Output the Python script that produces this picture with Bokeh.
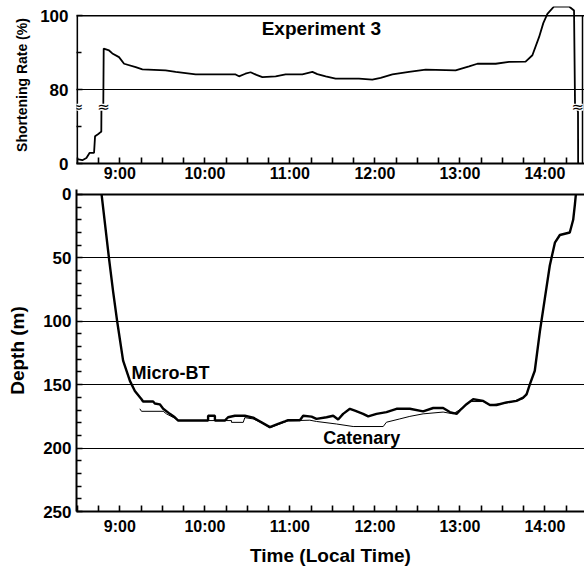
import numpy as np
from bokeh.plotting import figure
from bokeh.layouts import column
from bokeh.models import Range1d, FixedTicker, PrintfTickFormatter, Span
from bokeh.core.properties import value
from bokeh.embed import file_html
from bokeh.resources import INLINE

FONT = "Liberation Sans"

# ---------------- data (times in minutes after 08:00) ----------------
sr_minutes = [30, 33.5, 36.4, 38.7, 41.8, 42.5, 44.8, 46.4, 46.9, 47.0, 48.3, 48.6,
              52.4, 54.7, 59.4, 63.0, 71.2, 75.9, 92.3, 99.4, 113.5, 141.7, 144.1,
              148.6, 152.3, 156.4, 160.6, 170, 177, 188.8, 195.9, 199.4, 205.3, 212.3,
              228.8, 238.2, 244.1, 252.4, 264.1, 275.9, 297, 306.5, 312.4, 325.3,
              334.7, 346.4, 351.2, 355.9, 358.9, 361.8, 366.5, 377.1, 380.6, 381.3,
              383.4, 383.5]
sr_percent = [1.2, 0.9, 1.5, 2.9, 2.9, 7.4, 8.0, 8.5, 8.6, 14.5, 75, 91.1,
              90.6, 89.8, 88.8, 87.0, 86.1, 85.5, 85.2, 84.8, 84.1, 84.1, 83.6,
              84.3, 84.7, 84.0, 83.4, 83.6, 84.1, 84.1, 84.8, 84.2, 83.6, 83.0,
              83.0, 82.7, 83.2, 84.1, 84.8, 85.4, 85.2, 86.3, 87.0, 87.0,
              87.5, 87.6, 89.3, 94.2, 98.0, 100.5, 102.5, 102.5, 101.4, 76,
              14, 0]

bt_minutes = [47.1, 52.4, 55.3, 58.1, 62.3, 67.1, 70.6, 75.3, 76.4, 83.5, 84.7, 88.2,
              90.6, 95.3, 98.8, 101.2, 122.3, 122.3, 127.1, 127.1, 134.1, 136.4, 141.2,
              148.2, 154.1, 160, 165.9, 171.7, 176.5, 178.8, 187.1, 189.4, 195.3, 198.8,
              205.9, 210.6, 214.1, 217.6, 222.4, 225.9, 231.7, 235.3, 241.2, 248.2,
              255.3, 264.7, 274.1, 281.2, 288.2, 292.9, 297.7, 301.2, 304.7, 309.4,
              316.5, 321.2, 325.9, 332.9, 340, 344.7, 347.1, 349.4, 352.9, 356.5, 360,
              363.5, 367.1, 370.6, 377.6, 380, 381.2, 381.9]
bt_depth = [0, 51, 77, 100, 131, 147, 155, 161.5, 163.3, 163.3, 164.8, 165.5,
            169, 173, 175.7, 178.3, 178.3, 174.5, 174.5, 178.3, 178.3, 175.7, 174.5,
            174.5, 176, 179.7, 183.5, 181, 179, 178, 178, 174.5, 175.2, 177,
            175.7, 174.5, 177.5, 173, 169, 170.5, 173, 175, 173, 171.6,
            169, 169, 171, 168.4, 168.4, 171.6, 173, 169, 165.4, 161.5,
            162.8, 166, 166, 164, 162.8, 160.2, 157.6, 149.8, 139, 108, 82,
            56, 38, 32, 30, 20, 8, 0]

cat_minutes = [74.1, 75.3, 90.6, 92.9, 98.8, 101.2, 138.8, 138.8, 147.1, 148.2, 154.1,
               160, 165.9, 171.7, 178.8, 194.1, 198.8, 212.9, 224.7, 245.9, 248.2,
               257.6, 264.7, 274.1, 288.2, 295.3, 302.4, 307.1, 316.5, 321.2, 332.9,
               344.7, 348]
cat_depth = [169, 171, 171, 173, 176.5, 178.3, 178.3, 179.7, 179.7, 176, 177,
             180, 184, 181.5, 178.5, 178, 179, 181, 183, 183, 179.6,
             177, 175, 173, 171.6, 173, 168, 163.3, 163.3, 166, 164.5,
             161, 155]

hour_ticks = [9, 10, 11, 12, 13, 14]
quarter_ticks = [8.5, 8.75, 9.25, 9.5, 9.75, 10.25, 10.5, 10.75, 11.25, 11.5, 11.75,
                 12.25, 12.5, 12.75, 13.25, 13.5, 13.75, 14.25]
sr_tick_labels = {0: "0", 20: "80", 40: "100"}
depth_ticks = [0, 50, 100, 150, 200, 250]
depth_minor = [10, 20, 30, 40, 60, 70, 80, 90, 110, 120, 130, 140, 160, 170, 180, 190,
               210, 220, 230, 240]
depth_grid = [50, 100, 150, 200]


def hours(mins):
    return [8 + m / 60.0 for m in mins]


def broken(v):
    # axis break: 15..75 % removed
    return [x if x <= 15 else x - 60 for x in v]


X0 = 8.49
FW = 508
X1 = X0 + FW / 85.0


def style_x(ax):
    ax.ticker = FixedTicker(ticks=hour_ticks, minor_ticks=quarter_ticks)
    ax.formatter = PrintfTickFormatter(format="%d:00")
    ax.axis_line_width = 2
    ax.major_tick_in = 6
    ax.major_tick_out = 0
    ax.minor_tick_in = 6
    ax.minor_tick_out = 0
    ax.major_tick_line_width = 1.6
    ax.minor_tick_line_width = 1.6
    ax.major_label_text_font = FONT
    ax.major_label_text_font_style = "bold"
    ax.major_label_text_font_size = "16px"
    ax.major_label_text_color = "black"


def style_y(ax):
    ax.axis_line_width = 2
    ax.major_tick_in = 6
    ax.major_tick_out = 0
    ax.minor_tick_in = 5
    ax.minor_tick_out = 0
    ax.major_tick_line_width = 1.5
    ax.minor_tick_line_width = 1.5
    ax.major_label_text_font = FONT
    ax.major_label_text_font_style = "bold"
    ax.major_label_text_font_size = "17px"
    ax.major_label_text_color = "black"
    ax.axis_label_text_font = FONT
    ax.axis_label_text_font_style = "bold"
    ax.axis_label_text_color = "black"


# ---------------- top panel ----------------
top = figure(frame_width=FW, frame_height=157, x_range=Range1d(X0, X1),
             y_range=Range1d(0, 42.5), output_backend="svg", toolbar_location=None,
             min_border_left=76, min_border_right=0, min_border_top=6, min_border_bottom=0)
top.outline_line_color = None
top.xgrid.visible = False
top.ygrid.ticker = FixedTicker(ticks=[20])
top.ygrid.grid_line_color = "black"
top.ygrid.grid_line_width = 1
style_x(top.xaxis[0])
top.xaxis[0].major_label_standoff = 1
style_y(top.yaxis[0])
top.yaxis[0].ticker = FixedTicker(ticks=[0, 20, 40], minor_ticks=[10, 30])
top.yaxis[0].major_label_overrides = sr_tick_labels
top.yaxis[0].axis_line_color = None
top.yaxis[0].major_label_standoff = 8
top.yaxis[0].axis_label = "Shortening Rate (%)"
top.yaxis[0].axis_label_text_font_size = "14px"
top.yaxis[0].axis_label_standoff = 7

top.segment(x0=[X0 + 0.6 / 85], y0=[0], x1=[X0 + 0.6 / 85], y1=[40], line_color="black", line_width=2)
top.segment(x0=[14.443], y0=[0], x1=[14.443], y1=[40], line_color="black", line_width=1.5)
top.add_layout(Span(location=40, dimension="width", line_color="black", line_width=1.5))

top.line(hours(sr_minutes), broken(sr_percent), line_color="black", line_width=1.8)

brk_x = [X0 + 0.6 / 85, 8 + 48.4 / 60, 8 + 383.2 / 60]
brk_y = [15.2, 15.2, 15.2]
top.rect(brk_x, brk_y, width=11, height=7, width_units="screen", height_units="screen",
         fill_color="white", line_color=None)
top.text(brk_x, brk_y, text=["\u2248"] * 3, text_align="center", text_baseline="middle",
         text_font=value("DejaVu Sans"), text_font_size="15px", text_color="black")

top.text([8 + 202.2 / 60], [36.6], text=["Experiment 3"], text_align="center",
         text_baseline="middle", text_font=value(FONT), text_font_style="bold",
         text_font_size="19px", text_color="black")

# ---------------- bottom panel ----------------
bot = figure(frame_width=FW, frame_height=322, x_range=top.x_range,
             y_range=Range1d(250, -3.9), output_backend="svg", toolbar_location=None,
             min_border_left=76, min_border_right=0, min_border_top=5, min_border_bottom=0)
bot.outline_line_color = None
bot.xgrid.visible = False
bot.ygrid.ticker = FixedTicker(ticks=depth_grid)
bot.ygrid.grid_line_color = "black"
bot.ygrid.grid_line_width = 1
style_x(bot.xaxis[0])
bot.xaxis[0].major_label_standoff = 6
bot.xaxis[0].axis_label = "Time (Local Time)"
bot.xaxis[0].axis_label_text_font = FONT
bot.xaxis[0].axis_label_text_font_style = "bold"
bot.xaxis[0].axis_label_text_font_size = "19px"
bot.xaxis[0].axis_label_text_color = "black"
bot.xaxis[0].axis_label_standoff = 7
style_y(bot.yaxis[0])
bot.yaxis[0].ticker = FixedTicker(ticks=depth_ticks, minor_ticks=depth_minor)
bot.yaxis[0].major_label_standoff = 5
bot.yaxis[0].axis_label = "Depth (m)"
bot.yaxis[0].axis_label_text_font_size = "19px"
bot.yaxis[0].axis_label_standoff = 12
bot.add_layout(Span(location=0, dimension="width", line_color="black", line_width=2))

bot.line(hours(cat_minutes), cat_depth, line_color="black", line_width=1)
bot.line(hours(bt_minutes), bt_depth, line_color="black", line_width=2.4)

bot.text([8 + 68.3 / 60], [140.7], text=["Micro-BT"], text_align="left",
         text_baseline="middle", text_font=value(FONT), text_font_style="bold",
         text_font_size="18px", text_color="black")
bot.text([8 + 230.8 / 60], [192], text=["Catenary"], text_align="center",
         text_baseline="middle", text_font=value(FONT), text_font_style="bold",
         text_font_size="18px", text_color="black")

layout = column(top, bot, spacing=0)
open("out.html", "w").write(file_html(layout, INLINE))
